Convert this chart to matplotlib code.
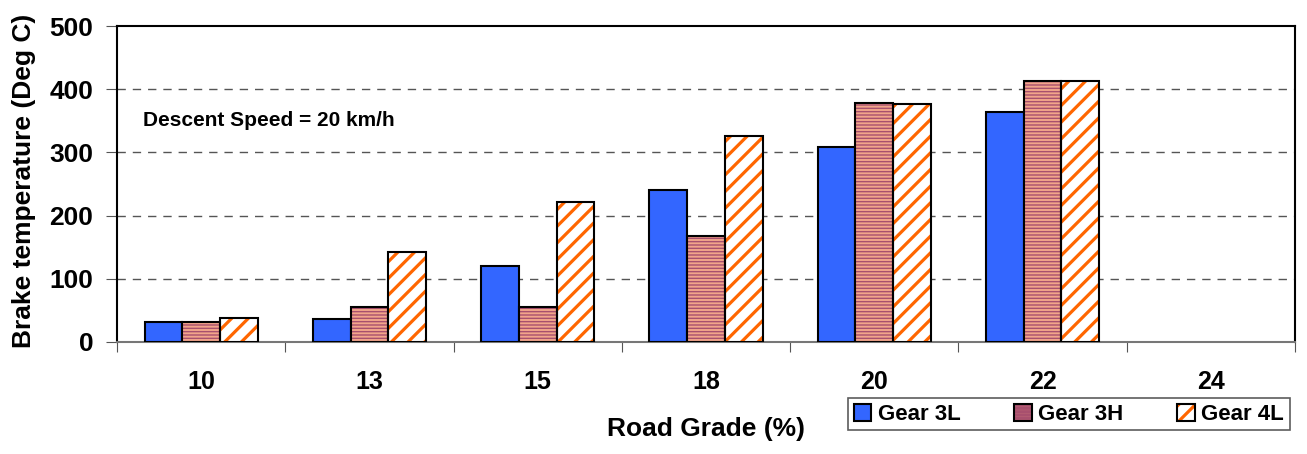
import numpy as np
import matplotlib.pyplot as plt

plt.rcParams['font.family'] = ['Liberation Sans', 'DejaVu Sans']
plt.rcParams['font.weight'] = 'bold'

grades = ['10', '13', '15', '18', '20', '22', '24']
gear_3l = [31, 36, 120, 240, 308, 364, 0]
gear_3h = [31, 55, 55, 168, 378, 413, 0]
gear_4l = [38, 142, 221, 326, 376, 413, 0]

fig = plt.figure(figsize=(13.07, 4.54), dpi=100)
ax = fig.add_axes([0.0895, 0.2467, 0.9013, 0.696])

x = np.arange(len(grades))
w = 0.224


def set_hatch_lw(bars, lw):
    # per-bar hatch width where the matplotlib version allows it
    for p in bars.patches:
        if hasattr(p, 'set_hatch_linewidth'):
            p.set_hatch_linewidth(lw)


# Gear 3L - solid blue
b1 = ax.bar(x - w, gear_3l, w, color='#3366FF', edgecolor='black', linewidth=1.5, zorder=3)

# Gear 3H - horizontal stripes (hatch colour via edgecolor, outline drawn after)
plt.rcParams['hatch.linewidth'] = 1.0
b2 = ax.bar(x, gear_3h, w, color='#F2A58A', edgecolor='#A8506E', linewidth=0, hatch='-----', zorder=3)
set_hatch_lw(b2, 1.0)
o2 = ax.bar(x, gear_3h, w, fill=False, edgecolor='black', linewidth=1.5, zorder=4)

# Gear 4L - orange diagonal stripes on white
plt.rcParams['hatch.linewidth'] = 2.3
b3 = ax.bar(x + w, gear_4l, w, color='white', edgecolor='#FF6600', linewidth=0, hatch='//', zorder=3)
set_hatch_lw(b3, 2.3)
o3 = ax.bar(x + w, gear_4l, w, fill=False, edgecolor='black', linewidth=1.5, zorder=4)

# no outline for empty bars
for grp in [b1, o2, o3]:
    for p in grp.patches:
        if p.get_height() == 0:
            p.set_visible(False)

ax.set_xlim(-0.5, len(grades) - 0.5)
ax.set_ylim(0, 500)
ax.set_yticks([0, 100, 200, 300, 400, 500])
ax.set_xticks(np.arange(len(grades) + 1) - 0.5, minor=False)
ax.set_xticklabels([])
ax.set_xticks(x, minor=True)
ax.set_xticklabels(grades, minor=True)
ax.tick_params(axis='x', which='major', length=7, color='#555555', direction='out')
ax.tick_params(axis='x', which='minor', length=0, pad=20, labelsize=18)
ax.tick_params(axis='y', length=8, color='#555555', labelsize=19, pad=9)

for yv in [100, 200, 300, 400]:
    ax.axhline(yv, color='#555555', linestyle=(0, (6, 5)), linewidth=1, zorder=1)

for s in ['left', 'top', 'right']:
    ax.spines[s].set_color('black')
    ax.spines[s].set_linewidth(1.5)
ax.spines['bottom'].set_color('#777777')
ax.spines['bottom'].set_linewidth(1.5)

ax.set_ylabel('Brake temperature (Deg C)', fontsize=19, fontweight='bold', va='center')
ax.yaxis.set_label_coords(-0.079, 0.51)
ax.set_xlabel('Road Grade (%)', fontsize=19, fontweight='bold', va='center')
ax.xaxis.set_label_coords(0.5, -0.275)

ax.text(0.022, 0.70, 'Descent Speed = 20 km/h', transform=ax.transAxes,
        fontsize=15, fontweight='bold', va='center')

leg = fig.legend([b1, (b2, o2), (b3, o3)], ['Gear 3L', 'Gear 3H', 'Gear 4L'],
                 loc='upper left', bbox_to_anchor=(0.6488, 0.0507, 0.338, 0.0727),
                 mode='expand', ncol=3, fontsize=16, frameon=True, fancybox=False,
                 handlelength=0.8, handleheight=0.8, handletextpad=0.3,
                 borderpad=0.25, columnspacing=1.2, borderaxespad=0)
leg.get_frame().set_edgecolor('#333333')
leg.get_frame().set_linewidth(1.2)

fig.savefig('out.png', dpi=100)
